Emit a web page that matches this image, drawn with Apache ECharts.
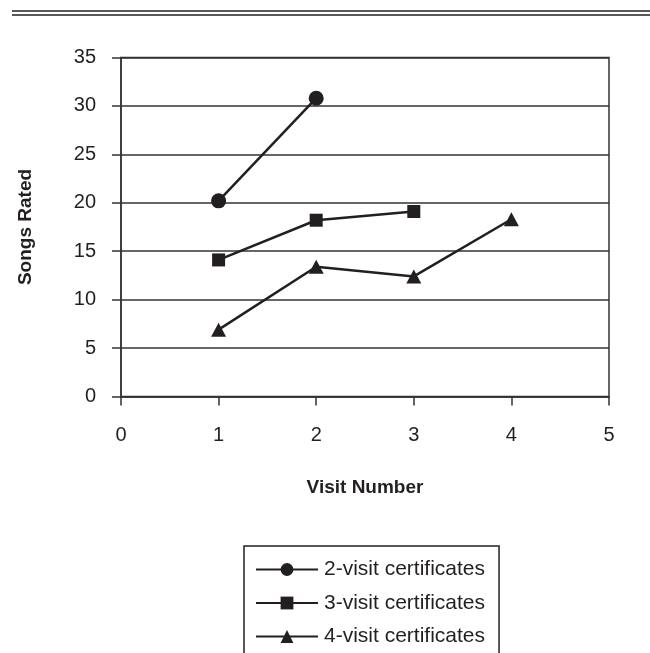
<!DOCTYPE html>
<html>
<head>
<meta charset="utf-8">
<script src="https://cdn.jsdelivr.net/npm/echarts@6/dist/echarts.min.js"></script>
<style>
  html, body { margin: 0; padding: 0; background: #fff; }
  #chart { width: 650px; height: 653px; }
</style>
</head>
<body>
<div id="chart"></div>
<script>
// Songs rated per visit, grouped by how many visits the certificate covers
const visitNumbers = [1, 2, 3, 4];
const twoVisit = [20.2, 30.8];
const threeVisit = [14.1, 18.2, 19.1];
const fourVisit = [6.9, 13.4, 12.4, 18.3];
const seriesNames = ['2-visit certificates', '3-visit certificates', '4-visit certificates'];
const xTicks = [0, 1, 2, 3, 4, 5];
const yTicks = [0, 5, 10, 15, 20, 25, 30, 35];

const INK = '#231f20';
const FONT = 'Liberation Sans, Arial, sans-serif';

function pairs(values) {
  return values.map((v, i) => [visitNumbers[i], v]);
}

const chart = echarts.init(document.getElementById('chart'), null, { renderer: 'canvas' });

chart.setOption({
  backgroundColor: '#ffffff',
  animation: false,
  textStyle: { fontFamily: FONT, color: INK },
  grid: {
    left: 121, top: 57.5, width: 488, height: 339,
    show: true, borderColor: '#333', borderWidth: 1.5, backgroundColor: 'transparent'
  },
  xAxis: {
    type: 'value',
    min: xTicks[0], max: xTicks[xTicks.length - 1], interval: 1,
    name: 'Visit Number', nameLocation: 'middle', nameGap: 82,
    nameTextStyle: { fontFamily: FONT, fontSize: 19, fontWeight: 'bold', color: INK },
    axisLine: { show: true, lineStyle: { color: '#333', width: 1.5 } },
    axisTick: { show: true, inside: false, length: 9, lineStyle: { color: '#333', width: 1.5 } },
    axisLabel: { fontFamily: FONT, fontSize: 20, color: INK, margin: 29 },
    splitLine: { show: false }
  },
  yAxis: {
    type: 'value',
    min: yTicks[0], max: yTicks[yTicks.length - 1], interval: 5,
    name: 'Songs Rated', nameLocation: 'middle', nameGap: 86, nameRotate: 90,
    nameTextStyle: { fontFamily: FONT, fontSize: 19, fontWeight: 'bold', color: INK },
    axisLine: { show: true, lineStyle: { color: '#333', width: 1.5 } },
    axisTick: { show: true, inside: false, length: 9, lineStyle: { color: '#333', width: 1.5 } },
    axisLabel: { fontFamily: FONT, fontSize: 20, color: INK, margin: 25 },
    splitLine: { show: true, lineStyle: { color: '#333', width: 1.5 } }
  },
  legend: {
    orient: 'vertical',
    left: 244, top: 546, height: 140,
    padding: [13, 14, 24, 11],
    itemGap: 12.5,
    itemWidth: 62, itemHeight: 16,
    borderColor: INK, borderWidth: 1.5,
    textStyle: { fontFamily: FONT, fontSize: 21, color: INK, padding: [0, 0, 0, 1] },
    data: seriesNames
  },
  graphic: [
    { type: 'line', shape: { x1: 12, y1: 11, x2: 650, y2: 11 }, style: { stroke: INK, lineWidth: 1.6 } },
    { type: 'line', shape: { x1: 12, y1: 15, x2: 650, y2: 15 }, style: { stroke: INK, lineWidth: 1.6 } }
  ],
  series: [
    {
      name: seriesNames[0], type: 'line', data: pairs(twoVisit),
      symbol: 'circle', symbolSize: 15,
      lineStyle: { color: INK, width: 2.5 }, itemStyle: { color: INK }
    },
    {
      name: seriesNames[1], type: 'line', data: pairs(threeVisit),
      symbol: 'rect', symbolSize: 13,
      lineStyle: { color: INK, width: 2.5 }, itemStyle: { color: INK }
    },
    {
      name: seriesNames[2], type: 'line', data: pairs(fourVisit),
      symbol: 'triangle', symbolSize: [15, 14],
      lineStyle: { color: INK, width: 2.5 }, itemStyle: { color: INK }
    }
  ]
});
</script>
</body>
</html>
